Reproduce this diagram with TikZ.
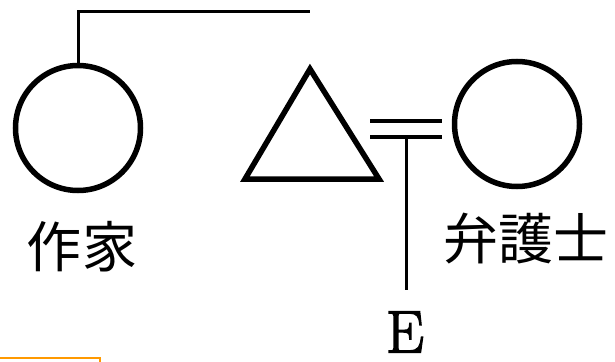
\documentclass[tikz,border=0pt]{standalone}
\usepackage{fontspec}
\newfontfamily\cjk{Noto Sans CJK JP}
\newfontfamily\efont[FakeBold=2.5]{Latin Modern Roman}
\begin{document}
\begin{tikzpicture}[x=1pt,y=-1pt,
  person/.style={circle,draw,line width=5.5pt,minimum size=125pt,inner sep=0pt},
  link/.style={line width=3pt},
  marriage/.style={line width=4pt},
  lab/.style={font=\cjk\fontsize{55}{60}\selectfont,inner sep=0pt}]
\useasboundingbox (0,0) rectangle (615,361);
\node[person] (writer) at (78,128) {};
\node[person] (lawyer) at (517,124) {};
\coordinate (tA) at (310,69);
\coordinate (tL) at (245,179);
\coordinate (tR) at (379,179);
\draw[line width=5.5pt,line join=miter] (tA) -- (tR) -- (tL) -- cycle;
\coordinate (topend) at (310,12);
\draw[link] (writer.north) -- (writer.north |- topend) -- (topend);
\coordinate (m1a) at (370,121);
\coordinate (m1b) at (442,121);
\coordinate (m2a) at (370,137);
\coordinate (m2b) at (442,137);
\draw[marriage] (m1a) -- (m1b);
\draw[marriage] (m2a) -- (m2b);
\coordinate (drop) at (406,137);
\node[font=\efont\fontsize{60}{64}\selectfont,inner sep=0pt] (E) at (405,332) {E};
\draw[link] (drop) -- (406,290) coordinate (dropend);
\node[lab] (wl) at (82,247) {作家};
\node[lab] (ll) at (526,239) {弁護士};
\draw[orange!80!yellow,line width=1.5pt] (0,358) -- (100,358) -- (100,362);
\end{tikzpicture}
\end{document}
